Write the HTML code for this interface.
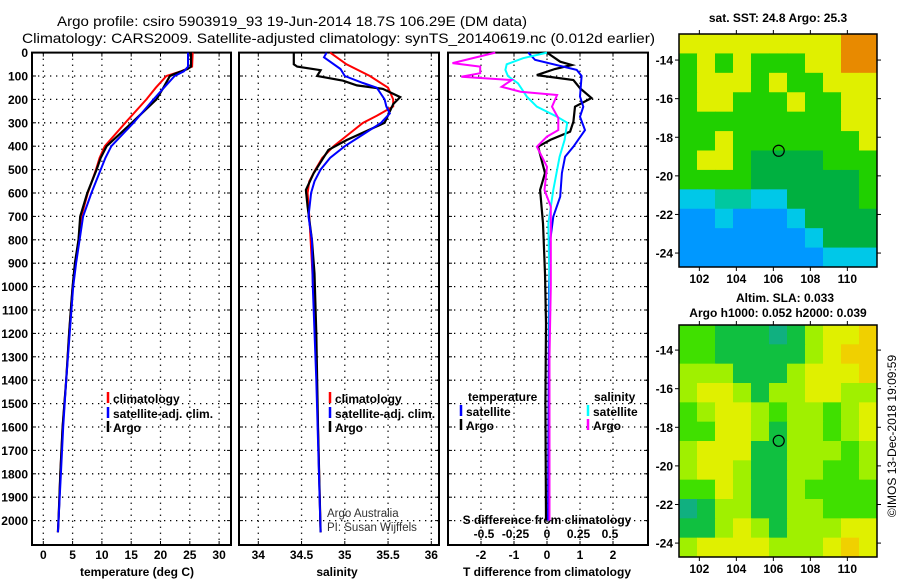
<!DOCTYPE html>
<html><head><meta charset="utf-8">
<style>
html,body{margin:0;padding:0;background:#fff;}
svg{display:block;font-family:"Liberation Sans",sans-serif;}
.t{font-size:12px;font-weight:bold;fill:#000;}
.ti{font-size:14px;fill:#000;}
</style></head>
<body>
<svg id="chart" width="900" height="580" viewBox="0 0 900 580" xmlns="http://www.w3.org/2000/svg">
<rect width="900" height="580" fill="#fff"/>
<text class="ti" x="57" y="26" textLength="470" lengthAdjust="spacingAndGlyphs">Argo profile: csiro 5903919_93 19-Jun-2014 18.7S 106.29E (DM data)</text>
<text class="ti" x="22" y="43" textLength="633" lengthAdjust="spacingAndGlyphs">Climatology: CARS2009. Satellite-adjusted climatology: synTS_20140619.nc (0.012d earlier)</text>
<g id="plots"></g>
</svg>
<script>
// ---- data ----
const depthTicks=[0,100,200,300,400,500,600,700,800,900,1000,1100,1200,1300,1400,1500,1600,1700,1800,1900,2000];
const tempTicks=[0,5,10,15,20,25,30];
const salTicks=[34,34.5,35,35.5,36];
const tdTicks=[-2,-1,0,1,2];
const sdTicks=[-0.5,-0.25,0,0.25,0.5];
const sdTickLabels=["-0.5","-0.25","0","0.25","0.5"];

const tArgoDepth=[0,60,70,90,100,150,200,300,400,450,500,600,700,800,900,1000,1100,1200,1400,1600,1800,2000,2050];
const tArgo=[25.2,25.2,24.6,22.5,21.6,20.5,19.3,15.1,10.8,9.8,9.1,7.5,6.3,6.0,5.4,5.0,4.7,4.4,3.9,3.3,2.9,2.6,2.5];
const tClimDepth=[0,60,80,100,150,200,300,400,450,500,600,700,800,900,1000,1200,1400,1600,1800,2000,2050];
const tClim=[25.5,25.4,23.5,21.0,19.2,17.6,14.0,10.5,9.6,9.0,7.6,6.5,6.0,5.5,5.0,4.4,3.9,3.3,2.9,2.6,2.5];
const tSatDepth=[0,60,80,100,150,200,300,400,450,500,600,700,800,900,1000,1200,1400,1600,1800,2000,2050];
const tSat=[24.7,24.7,24.0,22.4,20.6,18.8,15.4,11.6,10.6,9.8,8.2,6.8,6.2,5.6,5.1,4.5,3.9,3.4,3.0,2.6,2.5];

const sArgoDepth=[0,50,60,75,100,120,140,155,190,220,300,374,416,515,587,658,800,943,1200,1600,2050];
const sArgo=[34.41,34.41,34.45,34.72,34.68,34.98,35.14,35.44,35.64,35.56,35.46,35.02,34.81,34.64,34.55,34.57,34.62,34.65,34.67,34.69,34.72];
const sClimDepth=[0,50,100,150,200,230,270,300,350,400,450,500,550,600,700,900,1200,1600,2050];
const sClim=[34.83,35.02,35.29,35.5,35.56,35.56,35.37,35.21,35.04,34.87,34.74,34.66,34.59,34.57,34.59,34.62,34.66,34.69,34.72];
const sSatDepth=[0,20,70,100,130,150,200,230,260,300,350,400,450,500,550,600,700,800,1000,1400,2050];
const sSat=[34.79,34.76,34.95,35.0,35.21,35.37,35.46,35.48,35.52,35.42,35.21,35.0,34.83,34.72,34.65,34.61,34.58,34.62,34.63,34.67,34.72];

const dTArgoDepth=[0,39,53,70,96,117,152,194,231,295,338,373,402,515,587,730,943,1157,1500,2000];
const dTArgo=[0,0.4,0.75,0.24,-0.31,0.8,1.0,1.35,0.85,0.8,0.7,0.1,-0.27,-0.06,-0.21,-0.12,-0.06,-0.03,-0.05,-0.03];
const dTSatDepth=[0,31,74,100,188,231,274,331,402,445,515,616,701,800,1000,1500,2000];
const dTSat=[-0.57,-0.36,0.9,1.05,1.0,1.1,1.0,1.15,0.8,0.55,0.45,0.4,0.19,0.1,0.06,0.05,0.03];
const dSSatDepth=[0,24,50,74,100,131,188,231,274,300,373,445,587,730,1000,1500,2000];
const dSSat=[0,-0.19,-0.32,-0.33,-0.31,-0.23,-0.16,-0.08,0.08,0.16,0.14,0.1,0.05,0.01,0.02,0.02,0.02];
const dSArgoDepth=[0,45,60,88,103,117,146,167,181,231,280,331,359,402,488,587,658,800,1000,1300,1700,2000];
const dSArgo=[-0.41,-0.75,-0.53,-0.53,-0.68,-0.28,-0.36,-0.21,0.08,0.04,0.09,0.09,0,-0.08,0,-0.02,0.03,0.03,0.03,0.02,0.02,0.02];

const lonTicks=[102,104,106,108,110];
const latTicks=[-14,-16,-18,-20,-22,-24];
const profLon=106.29, profLat=-18.7;
const sstRows=["YYYYYYYYYOO","GYGYGGGYYOO","GYYYGYGGYYY","GYYGGGYGGYY","GGGGGGGGGYY","GGYGGGGGGGY","GYYGDDDDGGG","GGGGDDDDDDG","CCTTCCDDDDG","BBCBBBCDDDD","BBBBBBBCDDD","BBBBBBBBCCC"];
const slaRows=["GGDDDTDLYYA","GGDDDDDLYAA","LLLDDDLYYYA","LYYLDLLYYLL","GLYYLGLLGLY","GGYYLDLLGLY","LYYYDDLLLGL","LYYLDDLLGGL","GGYLDDLGGGG","TDLLDDLLGGG","DDLYLDLLLYY","LYYYYLLLYAY"];
const sstColors={Y:"#e0f000",O:"#e88a00",G:"#20d000",D:"#00b040",T:"#00c8a0",C:"#00c8e8",B:"#0098ff"};
const slaColors={G:"#40e000",D:"#10c040",T:"#10b080",L:"#a0f000",Y:"#e0f000",A:"#f0d000"};

// ---- drawing ----
const NS="http://www.w3.org/2000/svg";
const root=document.getElementById('plots');
function mk(tag,attrs,parent){const e=document.createElementNS(NS,tag);for(const k in attrs)e.setAttribute(k,attrs[k]);(parent||root).appendChild(e);return e;}
const yTop=52.6, pxPer100=23.4, yBot=545;
function yD(d){return yTop+d*pxPer100/100;}
function linScale(v0,p0,pxPerUnit){return v=>p0+(v-v0)*pxPerUnit;}
const panels=[
 {name:"temperature-panel",x0:32,x1:231,sx:linScale(0,43.3,5.86)},
 {name:"salinity-panel",x0:239,x1:439,sx:linScale(34,258.3,86.5)},
 {name:"difference-panel",x0:448,x1:648,sx:linScale(0,547,33)}
];
const sdx=linScale(0,547,126);
function text(str,x,y,cls,anchor,name,extra){const t=mk('text',Object.assign({x:x,y:y,class:cls,'text-anchor':anchor||'start'},extra||{}));t.textContent=str;return t;}

panels.forEach((p,pi)=>{
  const g=mk('g',{});
  
  
  // horizontal grid
  depthTicks.forEach(d=>{const l=mk('line',{x1:p.x0,x2:p.x1,y1:yD(d),y2:yD(d),stroke:'#000','stroke-width':1.3,'stroke-dasharray':'1.3,4.7'},g);
    
    mk('line',{x1:p.x0,x2:p.x0+4,y1:yD(d),y2:yD(d),stroke:'#000'},g);mk('line',{x1:p.x1-4,x2:p.x1,y1:yD(d),y2:yD(d),stroke:'#000'},g);});
  const ticks=pi==0?tempTicks:pi==1?salTicks:tdTicks;
  ticks.forEach(v=>{const x=p.sx(v);const l=mk('line',{x1:x,x2:x,y1:yTop,y2:yBot,stroke:'#000','stroke-width':1.3,'stroke-dasharray':'1.3,4.7'},g);
    
    mk('line',{x1:x,x2:x,y1:yBot-4,y2:yBot,stroke:'#000'},g);mk('line',{x1:x,x2:x,y1:yTop,y2:yTop+4,stroke:'#000'},g);
    text(String(v),x,559,'t','middle','x-tick-label');});
  const b=mk('rect',{x:p.x0,y:yTop,width:p.x1-p.x0,height:yBot-yTop,fill:'none',stroke:'#000','stroke-width':2},g);
  
});
depthTicks.forEach(d=>text(String(d),28,yD(d)+4.5,'t','end','depth-tick-label'));
text('temperature (deg C)',137,576,'t','middle','x-axis-title-temperature');
text('salinity',337,576,'t','middle','x-axis-title-salinity');
text('T difference from climatology',547,576,'t','middle','x-axis-title-t-difference');
text('S difference from climatology',547,524,'t','middle','s-difference-title');
sdTicks.forEach((v,i)=>text(sdTickLabels[i],sdx(v),538,'t','middle','s-tick-label'));

function series(depths,vals,sx,color,name,w){
  const pts=depths.map((d,i)=>sx(vals[i]).toFixed(1)+','+yD(d).toFixed(1)).join(' ');
  const l=mk('polyline',{points:pts,fill:'none',stroke:color,'stroke-width':w||2,'stroke-linejoin':'miter'});
  
}
const P=panels;
series(tClimDepth,tClim,P[0].sx,'#ff0000','temp-climatology-line');
series(tArgoDepth,tArgo,P[0].sx,'#000','temp-argo-line',2.2);
series(tSatDepth,tSat,P[0].sx,'#0000ff','temp-satellite-line');
series(sClimDepth,sClim,P[1].sx,'#ff0000','sal-climatology-line');
series(sArgoDepth,sArgo,P[1].sx,'#000','sal-argo-line',2.2);
series(sSatDepth,sSat,P[1].sx,'#0000ff','sal-satellite-line');
series(dTArgoDepth,dTArgo,P[2].sx,'#000','t-diff-argo-line',2.2);
series(dTSatDepth,dTSat,P[2].sx,'#0000ff','t-diff-satellite-line');
series(dSSatDepth,dSSat,sdx,'#00ffff','s-diff-satellite-line');
series(dSArgoDepth,dSArgo,sdx,'#ff00ff','s-diff-argo-line');

function legend(x,y,color,label,name){
  const g=mk('g',{});
  mk('line',{x1:x,x2:x,y1:y-11,y2:y,stroke:color,'stroke-width':2.5},g);
  const t=mk('text',{x:x+5,y:y,class:'t'},g);t.textContent=label;
}
legend(108,403,'#ff0000','climatology','legend-climatology');
legend(108,418,'#0000ff','satellite-adj. clim.','legend-satellite');
legend(108,432,'#000','Argo','legend-argo');
legend(330,403,'#ff0000','climatology','legend-climatology');
legend(330,418,'#0000ff','satellite-adj. clim.','legend-satellite');
legend(330,432,'#000','Argo','legend-argo');
text('temperature',468,401,'t','start','legend-temperature-header');
legend(461,416,'#0000ff','satellite','legend-t-satellite');
legend(461,430,'#000','Argo','legend-t-argo');
text('salinity',594,401,'t','start','legend-salinity-header');
legend(588,416,'#00ffff','satellite','legend-s-satellite');
legend(588,430,'#ff00ff','Argo','legend-s-argo');
text('Argo Australia',327,517,'','start','credit-argo-australia',{style:'font-size:11.5px;fill:#333'});
text('PI: Susan Wijffels',327,531,'','start','credit-pi',{style:'font-size:11.5px;fill:#333'});

// maps
function drawMap(top,bottom,latTop,rows,colors,name){
  const x0=679,x1=877, lon0=100.9, pxLon=18.5, pxLat=19.3;
  const lx=v=>x0+(v-lon0)*pxLon, ly=v=>top+(latTop-v)*pxLat;
  const g=mk('g',{});
  const nr=rows.length,nc=rows[0].length,cw=(x1-x0)/nc,ch=(bottom-top)/nr;
  rows.forEach((r,i)=>{for(let j=0;j<nc;j++){const c=mk('rect',{x:x0+j*cw,y:top+i*ch,width:cw+0.5,height:ch+0.5,fill:colors[r[j]]},g);}});
  mk('rect',{x:x0,y:top,width:x1-x0,height:bottom-top,fill:'none',stroke:'#000','stroke-width':1.5},g);
  lonTicks.forEach(v=>{mk('line',{x1:lx(v),x2:lx(v),y1:top-4,y2:top,stroke:'#000'},g);mk('line',{x1:lx(v),x2:lx(v),y1:bottom,y2:bottom+4,stroke:'#000'},g);
    text(String(v),lx(v),bottom+16,'t','middle','lon-tick-label');});
  latTicks.forEach(v=>{mk('line',{x1:x0-4,x2:x0,y1:ly(v),y2:ly(v),stroke:'#000'},g);mk('line',{x1:x1,x2:x1+4,y1:ly(v),y2:ly(v),stroke:'#000'},g);
    text(String(v),673,ly(v)+4.5,'t','end','lat-tick-label');});
  const c=mk('circle',{cx:lx(profLon),cy:ly(profLat),r:5.5,fill:'none',stroke:'#000','stroke-width':1.2},g);
  
}
drawMap(34,267,-12.65,sstRows,sstColors,'sst-map');
drawMap(325,557,-12.7,slaRows,slaColors,'sla-map');
text('sat. SST: 24.8 Argo: 25.3',778,22,'t','middle','sst-map-title');
text('Altim. SLA: 0.033',785,302,'t','middle','sla-map-title-1');
text('Argo h1000: 0.052 h2000: 0.039',778,317,'t','middle','sla-map-title-2');
text('©IMOS 13-Dec-2018 19:09:59',0,0,'','middle','imos-timestamp',{style:'font-size:12px',transform:'translate(896,436) rotate(-90)'});
</script>
</body></html>
